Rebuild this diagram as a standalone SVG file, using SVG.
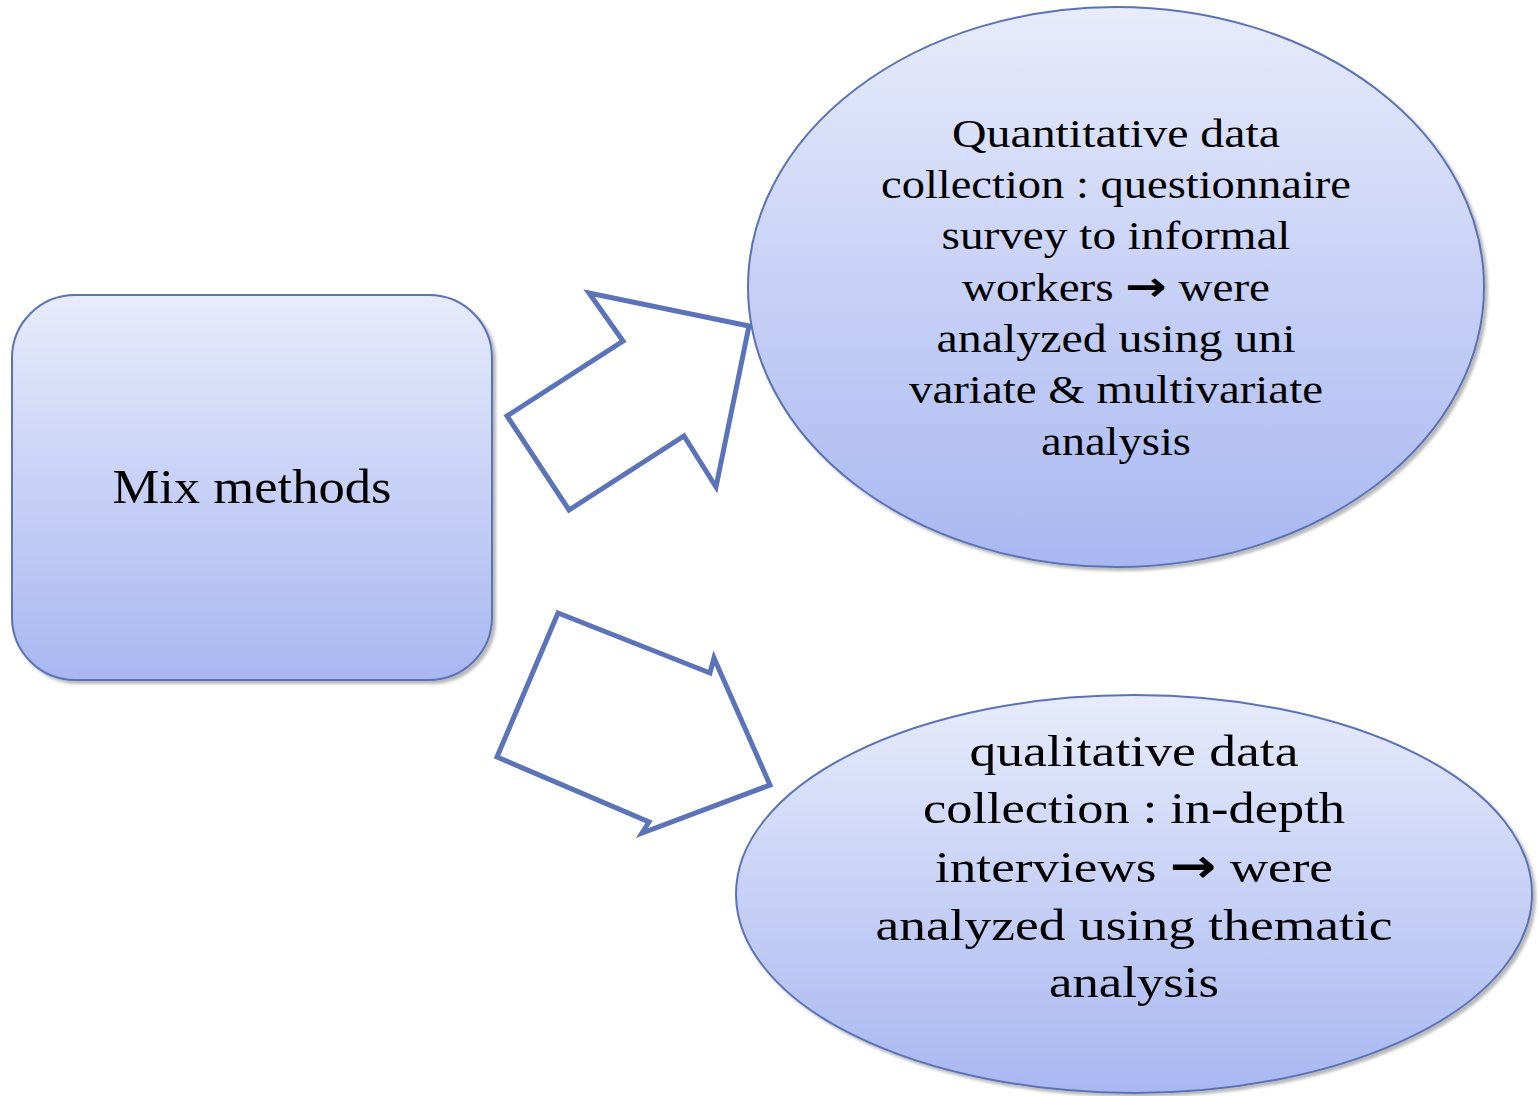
<svg xmlns="http://www.w3.org/2000/svg" width="1539" height="1096" viewBox="0 0 1539 1096">
  <defs>
    <linearGradient id="fillGrad" x1="0" y1="0" x2="0" y2="1">
      <stop offset="0" stop-color="#e7ebfb"/>
      <stop offset="1" stop-color="#a8b7f1"/>
    </linearGradient>
    <filter id="shadow" x="-5%" y="-5%" width="110%" height="110%">
      <feDropShadow dx="3" dy="3" stdDeviation="1.5" flood-color="#000" flood-opacity="0.28"/>
    </filter>
  </defs>
  <style>
    .node { fill: url(#fillGrad); stroke: #5a72b6; stroke-width: 2; filter: url(#shadow); }
    .arrow { fill: #ffffff; stroke: #5b73b8; stroke-width: 5; stroke-linejoin: miter; stroke-miterlimit: 10; }
    .label { font-family: "Liberation Serif", "DejaVu Serif", serif; fill: #000; text-anchor: middle; }
    .sym { font-family: "DejaVu Sans", sans-serif; font-weight: bold; }
  </style>
  <rect width="1539" height="1096" fill="#ffffff"/>

  <g id="mix-methods">
    <rect class="node" x="12" y="295" width="480" height="385" rx="63" ry="63"/>
    <text class="label" x="252" y="503" font-size="49" textLength="279" lengthAdjust="spacingAndGlyphs">Mix methods</text>
  </g>

  <g id="quantitative">
    <ellipse class="node" cx="1116" cy="287" rx="368" ry="280"/>
    <g class="label" font-size="40">
      <text x="1116" y="147" textLength="328" lengthAdjust="spacingAndGlyphs">Quantitative data</text>
      <text x="1116" y="198" textLength="470" lengthAdjust="spacingAndGlyphs">collection : questionnaire</text>
      <text x="1116" y="249" textLength="349" lengthAdjust="spacingAndGlyphs">survey to informal</text>
      <text x="1116" y="301" textLength="308" lengthAdjust="spacingAndGlyphs">workers <tspan class="sym" font-size="42">→</tspan> were</text>
      <text x="1116" y="352" textLength="359" lengthAdjust="spacingAndGlyphs">analyzed using uni</text>
      <text x="1116" y="403" textLength="414" lengthAdjust="spacingAndGlyphs">variate &amp; multivariate</text>
      <text x="1116" y="455" textLength="150" lengthAdjust="spacingAndGlyphs">analysis</text>
    </g>
  </g>

  <g id="qualitative">
    <ellipse class="node" cx="1134" cy="894" rx="398" ry="199"/>
    <g class="label" font-size="45">
      <text x="1134" y="766" textLength="329" lengthAdjust="spacingAndGlyphs">qualitative data</text>
      <text x="1134" y="823" textLength="422" lengthAdjust="spacingAndGlyphs">collection : in-depth</text>
      <text x="1134" y="882" textLength="398" lengthAdjust="spacingAndGlyphs">interviews <tspan class="sym" font-size="47">→</tspan> were</text>
      <text x="1134" y="940" textLength="517" lengthAdjust="spacingAndGlyphs">analyzed using thematic</text>
      <text x="1134" y="997" textLength="170" lengthAdjust="spacingAndGlyphs">analysis</text>
    </g>
  </g>

  <g id="connectors">
    <polygon class="arrow" points="749,326 589,293 623,341 507,416 569,510 684,436 716,487"/>
    <polygon class="arrow" points="558,613 710,673 714,658 770,785 642,833 649,822 497,757"/>
  </g>
</svg>
